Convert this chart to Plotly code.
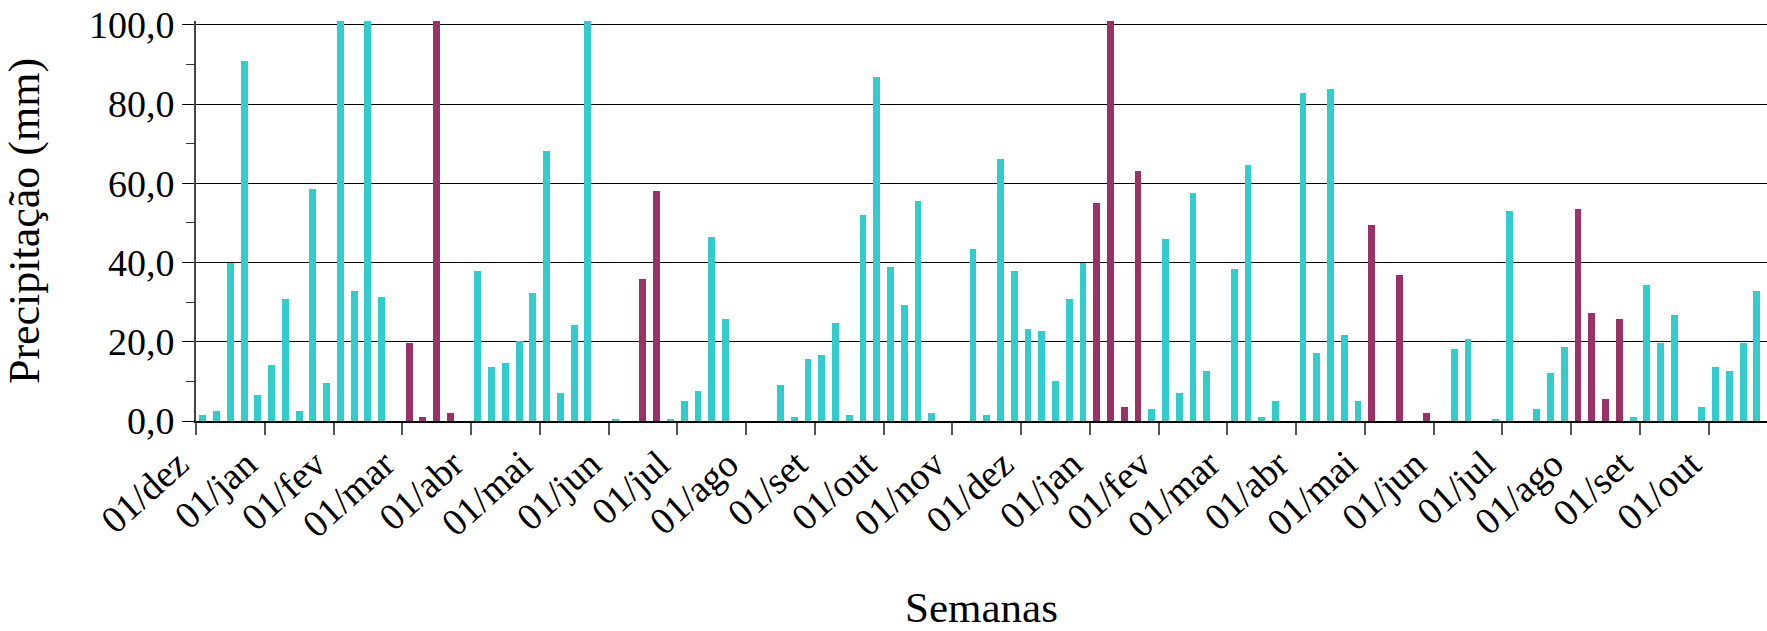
import plotly.graph_objects as go

# Weekly precipitation (mm), one value per week, starting 01/dez
precip = [
    1.6, 2.6, 40.0, 90.9, 6.6, 14.2, 30.9, 2.6, 58.6, 9.7,
    101.0, 32.9, 101.0, 31.4, 0.0, 19.8, 1.1, 101.0, 2.1, 0.0,
    37.9, 13.7, 14.7, 20.3, 32.4, 68.2, 7.1, 24.3, 101.0, 0.0,
    0.6, 0.0, 35.9, 58.1, 0.6, 5.1, 7.7, 46.5, 25.8, 0.0,
    0.0, 0.0, 9.2, 1.1, 15.7, 16.7, 24.8, 1.6, 52.1, 86.9,
    38.9, 29.4, 55.6, 2.1, 0.0, 0.0, 43.5, 1.6, 66.2, 37.9,
    23.3, 22.8, 10.2, 30.9, 40.0, 55.1, 101.0, 3.6, 63.2, 3.1,
    46.0, 7.1, 57.6, 12.7, 0.0, 38.4, 64.7, 1.1, 5.1, 0.0,
    82.8, 17.2, 83.9, 21.8, 5.1, 49.5, 0.0, 36.9, 0.0, 2.1,
    0.0, 18.3, 20.8, 0.0, 0.6, 53.1, 0.0, 3.1, 12.2, 18.8,
    53.6, 27.3, 5.6, 25.8, 1.1, 34.4, 19.8, 26.8, 0.0, 3.6,
    13.7, 12.7, 19.8, 32.9,
]

# Weeks drawn in the second colour
semanas_destaque = [15, 16, 17, 18, 32, 33, 65, 66, 67, 68,
                    85, 87, 89, 100, 101, 102, 103]

# Month labels, one every five weeks
meses = ["01/dez", "01/jan", "01/fev", "01/mar", "01/abr", "01/mai",
         "01/jun", "01/jul", "01/ago", "01/set", "01/out", "01/nov",
         "01/dez", "01/jan", "01/fev", "01/mar", "01/abr", "01/mai",
         "01/jun", "01/jul", "01/ago", "01/set", "01/out"]

COR_BASE = "#33CCCC"
COR_DESTAQUE = "#993366"

semanas = list(range(len(precip)))
cores = [COR_DESTAQUE if i in semanas_destaque else COR_BASE for i in semanas]
pos_meses = [-0.5 + 5 * k for k in range(len(meses))]

FONTE = "Liberation Serif, Times New Roman, serif"

fig = go.Figure(
    go.Bar(
        x=semanas,
        y=precip,
        width=0.5,
        marker=dict(color=cores, line=dict(width=0)),
        showlegend=False,
    )
)

fig.update_layout(
    width=1767,
    height=631,
    margin=dict(l=196, r=0, t=21, b=210, autoexpand=False),
    paper_bgcolor="white",
    plot_bgcolor="white",
    font=dict(family=FONTE, color="black"),
    bargap=0,
)

fig.update_xaxes(
    range=[-0.5, 113.74],
    automargin=False,
    tickmode="array",
    tickvals=pos_meses,
    ticktext=meses,
    tickangle=-42,
    tickfont=dict(size=38, family=FONTE, color="black"),
    ticklabelshift=-18,
    ticklabelstandoff=-8,
    ticks="outside",
    ticklen=12,
    tickwidth=1.5,
    tickcolor="#555555",
    showgrid=False,
    showline=True,
    linecolor="black",
    linewidth=1.5,
    zeroline=False,
    title=dict(text="Semanas", font=dict(size=43, family=FONTE, color="black"), standoff=60),
)

fig.update_yaxes(
    range=[0, 101],
    automargin=False,
    tickmode="array",
    tickvals=[0, 20, 40, 60, 80, 100],
    ticktext=["0,0", "20,0", "40,0", "60,0", "80,0", "100,0"],
    tickfont=dict(size=38, family=FONTE, color="black"),
    ticks="outside",
    ticklen=12,
    tickwidth=1.2,
    tickcolor="black",
    minor=dict(tickvals=[10, 30, 50, 70, 90], ticks="outside", ticklen=8,
               tickwidth=1.2, tickcolor="#333333", showgrid=False),
    showgrid=True,
    gridcolor="black",
    gridwidth=1.3,
    showline=True,
    linecolor="#444444",
    linewidth=2,
    zeroline=False,
    title=dict(text="Precipitação (mm)", font=dict(size=44, family=FONTE, color="black"), standoff=40),
)

fig.write_html("out.html")
